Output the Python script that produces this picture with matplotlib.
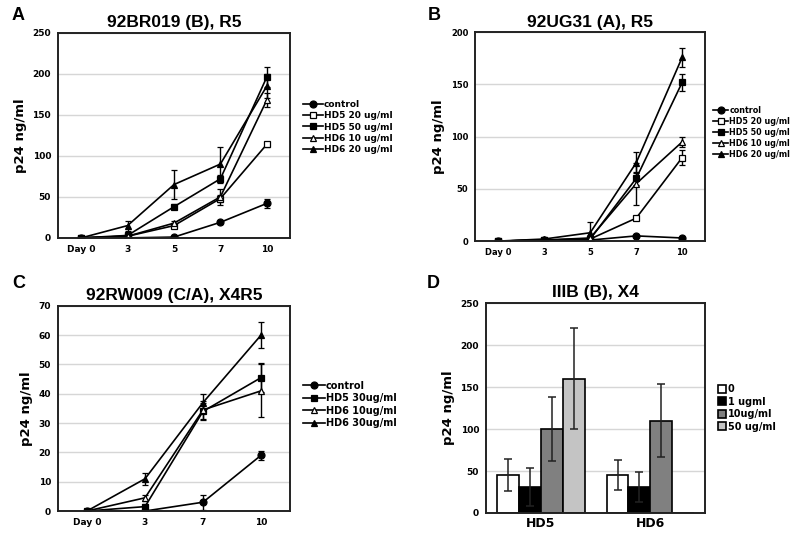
import matplotlib.pyplot as plt
import numpy as np

# ---- data ----
days_ab = ["Day 0", "3", "5", "7", "10"]
days_c = ["Day 0", "3", "7", "10"]

# panel A: 92BR019 (B), R5
a_labels = ["control", "HD5 20 ug/ml", "HD5 50 ug/ml", "HD6 10 ug/ml", "HD6 20 ug/ml"]
a_control = [0, 0, 1, 19, 42]
a_control_err = [0, 0, 1, 2, 6]
a_hd5_20 = [0, 2, 15, 48, 114]
a_hd5_20_err = [0, 1, 2, 4, 3]
a_hd5_50 = [0, 3, 38, 72, 196]
a_hd5_50_err = [0, 2, 3, 5, 12]
a_hd6_10 = [0, 2, 18, 50, 168]
a_hd6_10_err = [0, 1, 2, 10, 8]
a_hd6_20 = [0, 15, 65, 90, 185]
a_hd6_20_err = [0, 6, 18, 21, 15]

# panel B: 92UG31 (A), R5
b_labels = ["control", "HD5 20 ug/ml", "HD5 50 ug/ml", "HD6 10 ug/ml", "HD6 20 ug/ml"]
b_control = [0, 1, 1, 5, 3]
b_control_err = [0, 0, 0, 1, 1]
b_hd5_20 = [0, 1, 2, 22, 80]
b_hd5_20_err = [0, 0, 1, 2, 7]
b_hd5_50 = [0, 1, 2, 60, 152]
b_hd5_50_err = [0, 0, 1, 6, 8]
b_hd6_10 = [0, 1, 3, 55, 95]
b_hd6_10_err = [0, 0, 2, 20, 5]
b_hd6_20 = [0, 2, 8, 75, 176]
b_hd6_20_err = [0, 1, 10, 10, 9]

# panel C: 92RW009 (C/A), X4R5
c_labels = ["control", "HD5 30ug/ml", "HD6 10ug/ml", "HD6 30ug/ml"]
c_control = [0, 0, 3, 19]
c_control_err = [0, 0, 2.5, 1.5]
c_hd5_30 = [0, 1.5, 34, 45.5]
c_hd5_30_err = [0, 1, 3, 5]
c_hd6_10 = [0, 4.5, 34.5, 41]
c_hd6_10_err = [0, 1, 3, 9]
c_hd6_30 = [0, 11, 37, 60]
c_hd6_30_err = [0, 2, 3, 4.5]

# panel D: IIIB (B), X4
d_groups = ["HD5", "HD6"]
d_labels = ["0", "1 ugml", "10ug/ml", "50 ug/ml"]
d_values = [[45, 45], [31, 31], [100, 110], [160, 0]]
d_errors = [[19, 18], [23, 18], [38, 43], [60, 0]]
d_colors = ["white", "black", "#808080", "#c4c4c4"]

plt.rcParams["font.family"] = "DejaVu Sans"

fig = plt.figure(figsize=(8, 5.37), dpi=100)

def style_axes(ax, ymax, ystep, ticksize=6.5):
    ax.set_ylim(0, ymax)
    ax.set_yticks(np.arange(0, ymax + 1, ystep))
    ax.yaxis.grid(True, color="#d6d6d6", lw=1)
    ax.set_axisbelow(True)
    for s in ax.spines.values():
        s.set_linewidth(1.4)
        s.set_color("#222222")
    ax.tick_params(labelsize=ticksize, length=0, pad=5)
    for t in ax.get_xticklabels() + ax.get_yticklabels():
        t.set_fontweight("bold")
    ax.set_ylabel("p24 ng/ml", fontsize=9.5, fontweight="bold")

markers = {"control": ("o", "black"), "open_sq": ("s", "white"), "sq": ("s", "black"),
           "open_tri": ("^", "white"), "tri": ("^", "black")}

def line_panel(ax, days, series, labels, kinds, ymax, ystep, title, leg_anchor,
               legsize=6.5, handlelen=2.2, ticksize=6.5):
    x = np.arange(len(days))
    for (y, err), lab, kind in zip(series, labels, kinds):
        m, fc = markers[kind]
        ax.errorbar(x, y, yerr=err, color="black", lw=1.2, marker=m, ms=5,
                    mfc=fc, mec="black", mew=0.9, capsize=2.5, elinewidth=1,
                    capthick=1, label=lab)
    ax.set_xticks(x)
    ax.set_xticklabels(days)
    ax.set_xlim(-0.5, len(days) - 0.5)
    style_axes(ax, ymax, ystep, ticksize)
    ax.set_title(title, fontsize=12.5, family="Liberation Sans", fontweight="bold", pad=4)
    handles, labs = ax.get_legend_handles_labels()
    handles = [h[0] for h in handles]
    leg = ax.legend(handles, labs, loc="center left", bbox_to_anchor=leg_anchor,
                    frameon=False, fontsize=legsize, handlelength=handlelen,
                    handletextpad=0.1, labelspacing=0.25, borderaxespad=0)
    for t in leg.get_texts():
        t.set_fontweight("bold")

ax_a = fig.add_axes([0.0725, 0.557, 0.29, 0.382])
line_panel(ax_a, days_ab,
           [(a_control, a_control_err), (a_hd5_20, a_hd5_20_err), (a_hd5_50, a_hd5_50_err),
            (a_hd6_10, a_hd6_10_err), (a_hd6_20, a_hd6_20_err)],
           a_labels, ["control", "open_sq", "sq", "open_tri", "tri"],
           250, 50, "92BR019 (B), R5", (1.04, 0.54))

ax_b = fig.add_axes([0.594, 0.551, 0.2875, 0.389])
line_panel(ax_b, days_ab,
           [(b_control, b_control_err), (b_hd5_20, b_hd5_20_err), (b_hd5_50, b_hd5_50_err),
            (b_hd6_10, b_hd6_10_err), (b_hd6_20, b_hd6_20_err)],
           b_labels, ["control", "open_sq", "sq", "open_tri", "tri"],
           200, 50, "92UG31 (A), R5", (1.02, 0.52), legsize=5.8, handlelen=1.9,
           ticksize=6)

ax_c = fig.add_axes([0.0725, 0.0484, 0.29, 0.382])
line_panel(ax_c, days_c,
           [(c_control, c_control_err), (c_hd5_30, c_hd5_30_err),
            (c_hd6_10, c_hd6_10_err), (c_hd6_30, c_hd6_30_err)],
           c_labels, ["control", "sq", "open_tri", "tri"],
           70, 10, "92RW009 (C/A), X4R5", (1.04, 0.52), legsize=7)

ax_d = fig.add_axes([0.6075, 0.0447, 0.274, 0.391])
xg = np.arange(len(d_groups))
w = 0.2
for i, (vals, errs, lab, col) in enumerate(zip(d_values, d_errors, d_labels, d_colors)):
    pos = xg + (i - 1.5) * w
    ax_d.bar(pos, vals, w, color=col, edgecolor="black", lw=1.2, label=lab)
    keep = [j for j, v in enumerate(vals) if v > 0]
    ax_d.errorbar(pos[keep], [vals[j] for j in keep], yerr=[errs[j] for j in keep],
                  fmt="none", ecolor="#222222", elinewidth=1.1, capsize=3, capthick=1.1)
ax_d.set_xticks(xg)
ax_d.set_xticklabels(d_groups)
ax_d.set_xlim(-0.5, 1.5)
style_axes(ax_d, 250, 50)
ax_d.tick_params(axis="x", labelsize=9, pad=3)
ax_d.set_title("IIIB (B), X4", fontsize=12.5, family="Liberation Sans", fontweight="bold", pad=4)
leg = ax_d.legend(loc="center left", bbox_to_anchor=(1.04, 0.5), frameon=False,
                  fontsize=7, handlelength=0.8, handleheight=0.9, handletextpad=0.2,
                  labelspacing=0.25, borderaxespad=0)
for t in leg.get_texts():
    t.set_fontweight("bold")

# panel letters
for lab, (px, py) in zip("ABCD", [(12, 15), (428, 15), (12, 283), (427, 283)]):
    fig.text(px / 800, 1 - py / 537, lab, fontsize=13, fontweight="bold",
             family="Liberation Sans", va="center", ha="left")

fig.savefig("out.png", dpi=100)
